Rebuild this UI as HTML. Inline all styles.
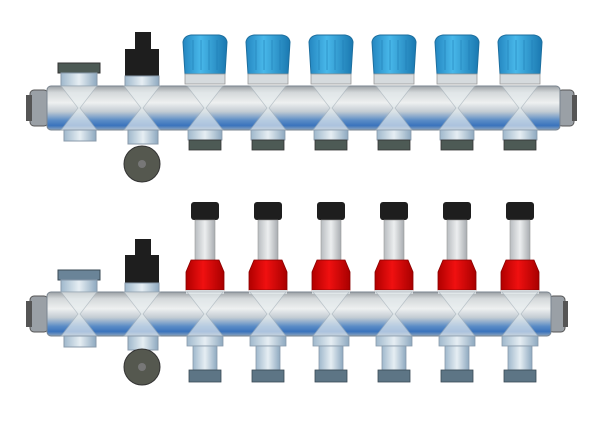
<!DOCTYPE html>
<html><head><style>html,body{margin:0;padding:0;background:#fff}svg{display:block}</style></head><body>
<svg width="600" height="421" viewBox="0 0 600 421" xmlns="http://www.w3.org/2000/svg" xmlns:xlink="http://www.w3.org/1999/xlink">
<defs>
<linearGradient id="pipe" x1="0" y1="0" x2="0" y2="1">
<stop offset="0" stop-color="#9a9fa3"/><stop offset="0.15" stop-color="#d4d8da"/><stop offset="0.38" stop-color="#eef0f0"/><stop offset="0.58" stop-color="#c3ccd3"/><stop offset="0.78" stop-color="#5a8cc6"/><stop offset="0.9" stop-color="#3a73bd"/><stop offset="1" stop-color="#8fa6bd"/>
</linearGradient>
<linearGradient id="blue" x1="0" y1="0" x2="1" y2="0">
<stop offset="0" stop-color="#2486c0"/><stop offset="0.4" stop-color="#48b8ea"/><stop offset="1" stop-color="#1a78b0"/>
</linearGradient>
<linearGradient id="red" x1="0" y1="0" x2="1" y2="0">
<stop offset="0" stop-color="#b00000"/><stop offset="0.45" stop-color="#f01010"/><stop offset="1" stop-color="#a80000"/>
</linearGradient>
<linearGradient id="fit" x1="0" y1="0" x2="1" y2="0">
<stop offset="0" stop-color="#9fb8cc"/><stop offset="0.5" stop-color="#e6eef3"/><stop offset="1" stop-color="#8ea9c0"/>
</linearGradient>
<linearGradient id="glass" x1="0" y1="0" x2="1" y2="0">
<stop offset="0" stop-color="#b8bcc0"/><stop offset="0.5" stop-color="#eceeef"/><stop offset="1" stop-color="#a8acb0"/>
</linearGradient>
<g id="xjoint">
<path d="M-18,0 L18,0 L1,22 L18,44 L-18,44 L-1,22 Z" fill="#e8eef0" stroke="#a8b4bc" stroke-width="0.8" opacity="0.65"/>
</g>
<g id="bluecap">
<path d="M-20,38 L-22,6 Q-21,0 -14,-1 L14,-1 Q21,0 22,6 L20,38 Z" fill="url(#blue)" stroke="#1d6f9f" stroke-width="1"/>
<path d="M-12,4 V34 M-4,4 V34 M4,4 V34 M12,4 V34" stroke="#1f7db5" stroke-width="1" opacity="0.6"/>
<rect x="-20" y="38" width="40" height="10" fill="#d5dadd" stroke="#999" stroke-width="0.8"/>
</g>
<g id="redvalve">
<rect x="-14" y="0" width="28" height="18" rx="3" fill="#1e1e1e"/>
<rect x="-10" y="18" width="20" height="42" fill="url(#glass)" stroke="#999" stroke-width="0.6"/>
<path d="M-14,58 L14,58 L19,70 L19,88 L-19,88 L-19,70 Z" fill="url(#red)" stroke="#8a0000" stroke-width="0.8"/>
<rect x="-19" y="88" width="38" height="4" fill="#d5dadd"/>
</g>
<g id="botfitTop">
<rect x="-17" y="0" width="34" height="10" fill="url(#fit)" stroke="#8899aa" stroke-width="0.8"/>
<rect x="-16" y="10" width="32" height="10" fill="#4d5a55" stroke="#333" stroke-width="0.8"/>
</g>
<g id="botfitBot">
<rect x="-18" y="0" width="36" height="10" fill="url(#fit)" stroke="#8899aa" stroke-width="0.8"/>
<rect x="-12" y="10" width="24" height="24" fill="url(#fit)" stroke="#8899aa" stroke-width="0.8"/>
<rect x="-16" y="34" width="32" height="12" fill="#5d7585" stroke="#3a4a55" stroke-width="0.8"/>
</g>
</defs>

<rect x="30" y="90" width="18" height="36" rx="4" fill="#9aa0a6" stroke="#555" stroke-width="1"/>
<rect x="26" y="95" width="6" height="26" fill="#555"/>
<rect x="558" y="90" width="16" height="36" rx="4" fill="#9aa0a6" stroke="#555" stroke-width="1"/>
<rect x="572" y="95" width="5" height="26" fill="#555"/>
<rect x="47" y="86" width="513" height="44" rx="4" fill="url(#pipe)" stroke="#7a8590" stroke-width="1"/>
<rect x="58" y="63" width="42" height="10" fill="#4d5a55" stroke="#333"/>
<rect x="61" y="73" width="36" height="13" fill="url(#fit)" stroke="#8899aa"/>
<use xlink:href="#xjoint" x="79" y="86"/>
<rect x="64" y="130" width="32" height="11" fill="url(#fit)" stroke="#8899aa"/>
<rect x="135" y="32" width="16" height="18" fill="#1e1e1e"/>
<rect x="125" y="49" width="34" height="27" fill="#1e1e1e"/>
<rect x="125" y="76" width="34" height="10" fill="url(#fit)" stroke="#8899aa"/>
<use xlink:href="#xjoint" x="142" y="86"/>
<rect x="128" y="130" width="30" height="14" fill="url(#fit)" stroke="#8899aa"/>
<circle cx="142" cy="164" r="18" fill="#55584f" stroke="#333"/>
<circle cx="142" cy="164" r="4" fill="#777"/>
<g id="topunit">
<use xlink:href="#bluecap" x="205" y="36"/>
<use xlink:href="#xjoint" x="205" y="86"/>
<use xlink:href="#botfitTop" x="205" y="130"/>
</g>
<use xlink:href="#topunit" x="63"/>
<use xlink:href="#topunit" x="126"/>
<use xlink:href="#topunit" x="189"/>
<use xlink:href="#topunit" x="252"/>
<use xlink:href="#topunit" x="315"/>

<rect x="30" y="296" width="18" height="36" rx="4" fill="#9aa0a6" stroke="#555"/>
<rect x="26" y="301" width="6" height="26" fill="#555"/>
<rect x="549" y="296" width="16" height="36" rx="4" fill="#9aa0a6" stroke="#555"/>
<rect x="563" y="301" width="5" height="26" fill="#555"/>
<rect x="47" y="292" width="504" height="44" rx="4" fill="url(#pipe)" stroke="#7a8590"/>
<rect x="58" y="270" width="42" height="10" fill="#6a8498" stroke="#3a4a55"/>
<rect x="61" y="280" width="36" height="12" fill="url(#fit)" stroke="#8899aa"/>
<use xlink:href="#xjoint" x="79" y="292"/>
<rect x="64" y="336" width="32" height="11" fill="url(#fit)" stroke="#8899aa"/>
<rect x="135" y="239" width="16" height="17" fill="#1e1e1e"/>
<rect x="125" y="255" width="34" height="28" fill="#1e1e1e"/>
<rect x="125" y="283" width="34" height="9" fill="url(#fit)" stroke="#8899aa"/>
<use xlink:href="#xjoint" x="142" y="292"/>
<rect x="128" y="336" width="30" height="14" fill="url(#fit)" stroke="#8899aa"/>
<circle cx="142" cy="367" r="18" fill="#55584f" stroke="#333"/>
<circle cx="142" cy="367" r="4" fill="#777"/>
<g id="botunit">
<use xlink:href="#redvalve" x="205" y="202"/>
<use xlink:href="#xjoint" x="205" y="292"/>
<use xlink:href="#botfitBot" x="205" y="336"/>
</g>
<use xlink:href="#botunit" x="63"/>
<use xlink:href="#botunit" x="126"/>
<use xlink:href="#botunit" x="189"/>
<use xlink:href="#botunit" x="252"/>
<use xlink:href="#botunit" x="315"/>
</svg>
</body></html>
